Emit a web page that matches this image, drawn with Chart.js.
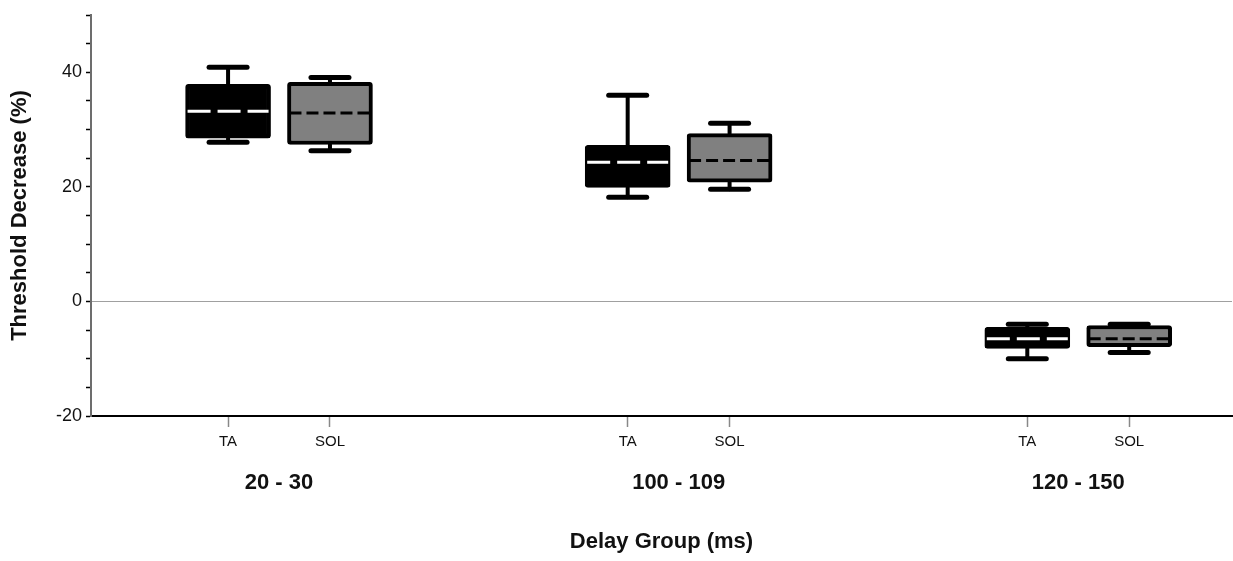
<!DOCTYPE html>
<html>
<head>
<meta charset="utf-8">
<script src="https://cdn.jsdelivr.net/npm/chart.js@4"></script>
<style>
  body { margin: 0; background: #fff; }
  #wrap { width: 1233px; height: 561px; position: relative; }
</style>
</head>
<body>
<div id="wrap"><canvas id="chart"></canvas></div>
<script>
// Box plot of threshold decrease per delay group, TA vs SOL.
const groups = ['20 - 30', '100 - 109', '120 - 150'];
const muscles = ['TA', 'SOL'];

const taMin = [27.8, 18.2, -10.0];
const taQ1  = [28.5, 19.9, -8.2];
const taMed = [33.2, 24.3, -6.5];
const taQ3  = [37.9, 27.25, -4.5];
const taMax = [40.9, 36.0, -4.0];

const solMin = [26.3, 19.6, -8.9];
const solQ1  = [27.4, 20.8, -7.9];
const solMed = [32.9, 24.6, -6.5];
const solQ3  = [38.25, 29.3, -4.2];
const solMax = [39.1, 31.1, -4.0];

// group g sits at x = 4g, muscles either side of it
const GROUP_STEP = 4, OFFSET = 0.51;
const xOf = (g, m) => g * GROUP_STEP + (m === 0 ? -OFFSET : OFFSET);

const series = [
  { min: taMin, q1: taQ1, med: taMed, q3: taQ3, max: taMax, fill: '#000000', medColor: '#ffffff', dash: [23, 7] },
  { min: solMin, q1: solQ1, med: solMed, q3: solQ3, max: solMax, fill: '#808080', medColor: '#000000', dash: [12, 5] },
];

const BOX_W = 85, CAP_HALF = 19;

const whiskers = {
  id: 'whiskers',
  beforeDatasetsDraw(chart) {
    const { ctx, scales: { x, y } } = chart;
    ctx.save();
    ctx.strokeStyle = '#000';
    ctx.lineCap = 'round';
    series.forEach((s, m) => {
      groups.forEach((_, g) => {
        const px = x.getPixelForValue(xOf(g, m));
        ctx.lineWidth = 4;
        ctx.beginPath();
        ctx.moveTo(px, y.getPixelForValue(s.max[g]));
        ctx.lineTo(px, y.getPixelForValue(s.q3[g]));
        ctx.moveTo(px, y.getPixelForValue(s.q1[g]));
        ctx.lineTo(px, y.getPixelForValue(s.min[g]));
        ctx.stroke();
        ctx.lineWidth = 5;
        [s.max[g], s.min[g]].forEach(v => {
          const py = y.getPixelForValue(v);
          ctx.beginPath();
          ctx.moveTo(px - CAP_HALF, py);
          ctx.lineTo(px + CAP_HALF, py);
          ctx.stroke();
        });
      });
    });
    ctx.restore();
  },
  afterDatasetsDraw(chart) {
    const { ctx, scales: { x, y } } = chart;
    ctx.save();
    ctx.lineWidth = 3;
    series.forEach((s, m) => {
      ctx.strokeStyle = s.medColor;
      ctx.setLineDash(s.dash);
      groups.forEach((_, g) => {
        const px = x.getPixelForValue(xOf(g, m));
        const py = y.getPixelForValue(s.med[g]);
        ctx.beginPath();
        ctx.moveTo(px - BOX_W / 2 + 2, py);
        ctx.lineTo(px + BOX_W / 2 - 2, py);
        ctx.stroke();
      });
    });
    ctx.restore();
  }
};

const muscleTicks = [];
groups.forEach((_, g) => muscles.forEach((__, m) => muscleTicks.push(xOf(g, m))));
const groupTicks = groups.map((_, g) => g * GROUP_STEP);

const X_MIN = -1.882, X_MAX = 9.539;

new Chart(document.getElementById('chart'), {
  type: 'bar',
  data: {
    datasets: series.map((s, m) => ({
      label: muscles[m],
      data: groups.map((_, g) => ({ x: xOf(g, m), y: [s.q1[g], s.q3[g]] })),
      backgroundColor: s.fill,
      borderColor: '#000',
      borderWidth: 4,
      borderRadius: 3,
      borderSkipped: false,
      barThickness: BOX_W,
      grouped: false,
    })),
  },
  options: {
    responsive: true,
    maintainAspectRatio: false,
    animation: false,
    layout: { padding: { top: 15, right: 1, left: 0, bottom: 0 } },
    plugins: { legend: { display: false }, tooltip: { enabled: false } },
    scales: {
      x: {
        type: 'linear',
        position: 'bottom',
        min: X_MIN,
        max: X_MAX,
        offset: false,
        weight: 1,
        afterBuildTicks: s => { s.ticks = muscleTicks.map(v => ({ value: v })); },
        afterFit: s => { s.height = 35; },
        ticks: {
          autoSkip: false,
          maxRotation: 0,
          padding: 6,
          color: '#111',
          font: { family: 'Liberation Sans, Arial', size: 15 },
          callback: (v, i) => muscles[i % 2],
        },
        grid: { offset: false, drawOnChartArea: false, tickLength: 11, tickColor: '#888', tickWidth: 1.5 },
        border: { color: '#000', width: 2 },
      },
      x2: {
        type: 'linear',
        position: 'bottom',
        min: X_MIN,
        max: X_MAX,
        offset: false,
        weight: 2,
        afterBuildTicks: s => { s.ticks = groupTicks.map(v => ({ value: v })); },
        afterFit: s => { s.height = 110; },
        ticks: {
          autoSkip: false,
          maxRotation: 0,
          padding: 11,
          color: '#111',
          font: { family: 'Liberation Sans, Arial', size: 22, weight: 'bold' },
          callback: (v, i) => groups[i],
        },
        grid: { display: false, offset: false },
        border: { display: false },
        title: {
          display: true,
          text: 'Delay Group (ms)',
          color: '#111',
          font: { family: 'Liberation Sans, Arial', size: 22, weight: 'bold' },
          padding: { top: 0, bottom: 6 },
        },
      },
      y: {
        min: -20,
        max: 50,
        afterFit: s => { s.width = 91; },
        ticks: {
          stepSize: 5,
          autoSkip: false,
          padding: 4,
          color: '#111',
          font: { family: 'Liberation Sans, Arial', size: 18 },
          callback: v => (v % 20 === 0 ? String(v) : ''),
        },
        grid: {
          color: c => (c.tick && c.tick.value === 0 ? '#a0a0a0' : 'rgba(0,0,0,0)'),
          lineWidth: 1,
          tickColor: '#000',
          tickLength: 5,
          tickWidth: 1.5,
        },
        border: { color: '#6d6d6d', width: 2 },
        title: {
          display: true,
          text: 'Threshold Decrease (%)',
          color: '#111',
          font: { family: 'Liberation Sans, Arial', size: 22, weight: 'bold' },
          padding: { top: 7, bottom: 0 },
        },
      },
    },
  },
  plugins: [whiskers],
});
</script>
</body>
</html>
